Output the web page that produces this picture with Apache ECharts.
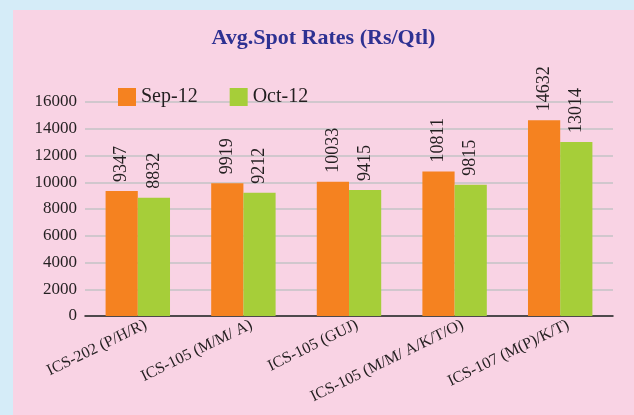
<!DOCTYPE html>
<html>
<head>
<meta charset="utf-8">
<script src="https://cdn.jsdelivr.net/npm/echarts@6/dist/echarts.min.js"></script>
<style>
  html, body { margin: 0; padding: 0; }
  body { width: 634px; height: 415px; background: #d5ecf8; position: relative; overflow: hidden; }
  #chart { position: absolute; left: 13px; top: 10px; width: 621px; height: 405px; background: #f9d3e4; }
</style>
</head>
<body>
<div id="chart"></div>
<script>
var categories = ['ICS-202 (P/H/R)', 'ICS-105 (M/M/ A)', 'ICS-105 (GUJ)', 'ICS-105 (M/M/ A/K/T/O)', 'ICS-107 (M(P)/K/T)'];
var sep12 = [9347, 9919, 10033, 10811, 14632];
var oct12 = [8832, 9212, 9415, 9815, 13014];

var myChart = echarts.init(document.getElementById('chart'));

var serif = '"Liberation Serif", "DejaVu Serif", serif';

// data label: vertical, above the bar
var barLabel = {
    show: true,
    position: 'top',
    rotate: 90,
    align: 'left',
    verticalAlign: 'middle',
    distance: 9,
    color: '#231f20',
    fontFamily: serif,
    fontSize: 18
};

var option = {
    animation: false,
    title: {
        text: 'Avg.Spot Rates (Rs/Qtl)',
        left: 'center',
        top: 12,
        textStyle: { color: '#2e3192', fontFamily: serif, fontWeight: 'bold', fontSize: 22 }
    },
    legend: {
        left: 100,
        top: 72,
        itemWidth: 18,
        itemHeight: 18,
        itemGap: 32,
        icon: 'rect',
        textStyle: { fontFamily: serif, fontSize: 20, color: '#231f20' },
        data: ['Sep-12', 'Oct-12']
    },
    grid: { left: 72, right: 21, top: 92, bottom: 99 },
    xAxis: {
        type: 'category',
        data: categories,
        axisLine: { lineStyle: { color: '#231f20', width: 1.5 } },
        axisTick: { show: false },
        axisLabel: {
            interval: 0,
            rotate: 26,
            margin: 12,
            padding: [0, -9, 0, 0],
            color: '#231f20',
            fontFamily: serif,
            fontSize: 16
        }
    },
    yAxis: {
        type: 'value',
        min: 0,
        max: 16000,
        interval: 2000,
        axisLine: { show: false },
        axisTick: { show: false },
        splitLine: { lineStyle: { color: '#c3c3c6', width: 1.5 } },
        axisLabel: {
            color: '#231f20', fontFamily: serif, fontSize: 17, margin: 8,
            formatter: function (v) { return String(v); }
        }
    },
    series: [{
        name: 'Sep-12',
        type: 'bar',
        data: sep12,
        barGap: '0%',
        barCategoryGap: '39%',
        itemStyle: { color: '#f58220' },
        label: barLabel
    }, {
        name: 'Oct-12',
        type: 'bar',
        data: oct12,
        itemStyle: { color: '#a6ce39' },
        label: barLabel
    }]
};

myChart.setOption(option);
</script>
</body>
</html>
